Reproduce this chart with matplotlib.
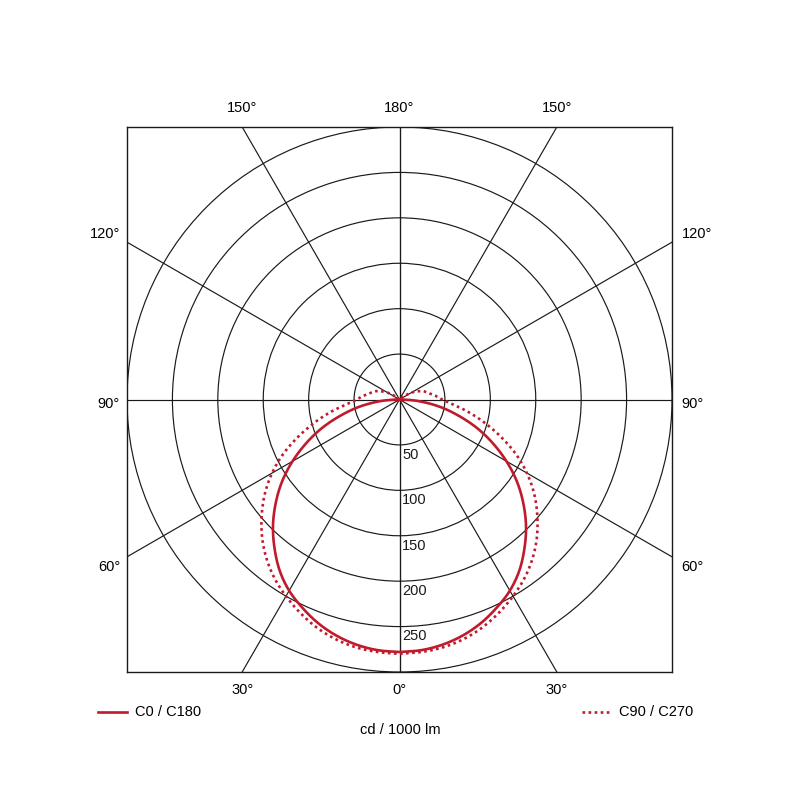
import numpy as np
import matplotlib.pyplot as plt
from matplotlib.lines import Line2D
from matplotlib.patches import Circle

plt.rcParams['font.family'] = ['Liberation Sans', 'DejaVu Sans']

# luminous intensity, cd / 1000 lm, vs angle from nadir (degrees)
angles_c0 = [0, 5, 10, 15, 20, 25, 30, 35, 40, 45, 50, 55, 60, 65, 70, 75, 80, 85, 90, 95, 100, 180]
c0_c180 = [278, 277, 274, 269, 262, 253, 243, 230, 214, 197, 178, 158, 136, 113, 90, 66, 44, 22, 4, 0, 0, 0]
angles_c90 = [0, 5, 10, 15, 20, 25, 30, 35, 40, 45, 50, 55, 60, 65, 70, 75, 80, 85, 90,
              95, 100, 105, 110, 115, 120, 125, 130, 135, 140, 180]
c90_c270 = [280, 279, 277, 273, 267, 259, 250, 240, 228, 214, 198, 181, 162, 141, 118, 96, 76, 58, 47,
            41, 35, 31, 27, 21, 15, 8, 3, 0, 0, 0]

ring_values = [50, 100, 150, 200, 250, 300]
ring_labels = ['50', '100', '150', '200', '250']
spoke_angles = [0, 30, 60, 90, 120, 150, 180]
rmax = 300

red = '#c01a2c'
grid_kw = dict(color='#1a1a1a', lw=0.85)


def to_xy(theta_deg, r, side=1):
    t = np.radians(theta_deg)
    r = np.asarray(r, dtype=float)
    return side * r * np.sin(t), -r * np.cos(t)


def smooth(theta, vals, n=8):
    # catmull-rom through the read points (in x/y space) for a smooth trace
    x, y = to_xy(theta, vals)
    p = np.column_stack([x, y])
    p = np.vstack([p[0] * 2 - p[1], p, p[-1] * 2 - p[-2]])
    out = []
    t = np.linspace(0, 1, n, endpoint=False)[:, None]
    for i in range(1, len(p) - 2):
        p0, p1, p2, p3 = p[i - 1], p[i], p[i + 1], p[i + 2]
        out.append(0.5 * (2 * p1 + (-p0 + p2) * t + (2 * p0 - 5 * p1 + 4 * p2 - p3) * t ** 2
                          + (-p0 + 3 * p1 - 3 * p2 + p3) * t ** 3))
    out.append(p[-2][None, :])
    return np.vstack(out)


def full_curve(theta, vals):
    pts = smooth(theta, vals)
    xr, yr = pts[:, 0], pts[:, 1]
    return np.concatenate([-xr[::-1], xr]), np.concatenate([yr[::-1], yr])


fig = plt.figure(figsize=(8, 8), dpi=100)
ax = fig.add_axes([127 / 800, 128 / 800, 545 / 800, 545 / 800])
ax.set_xlim(-rmax, rmax)
ax.set_ylim(-rmax, rmax)
ax.set_aspect('equal')
ax.set_xticks([])
ax.set_yticks([])
for s in ax.spines.values():
    s.set_linewidth(1.0)
    s.set_color('#1a1a1a')

for rv in ring_values:
    ax.add_patch(Circle((0, 0), rv, fill=False, **grid_kw))

L = rmax * 2
for a in spoke_angles:
    for side in (1, -1):
        x, y = to_xy(a, [0, L], side)
        ax.plot(x, y, **grid_kw)

for rv, lab in zip(ring_values, ring_labels):
    ax.annotate(lab, (0, -rv), xytext=(2, -2), textcoords='offset points',
                ha='left', va='top', fontsize=10.5, color='#1a1a1a')

x, y = full_curve(angles_c0, c0_c180)
ax.plot(x, y, color=red, lw=1.9, solid_capstyle='round')
x, y = full_curve(angles_c90, c90_c270)
ax.plot(x, y, color=red, lw=1.9, linestyle=(0, (1, 1.3)))

# angle labels where spokes meet the frame
for a in spoke_angles:
    t = np.radians(a)
    s, c = np.sin(t), -np.cos(t)
    for side in ((1, -1) if a not in (0, 180) else (1,)):
        if a in (0, 30, 150, 180):
            yb = np.sign(c) * rmax
            xb = side * s / abs(c) * rmax
            dy = 14 if c > 0 else -13
            ax.annotate(f'{a}°', (xb, yb), xytext=(0, dy), textcoords='offset points',
                        ha='center', va='center', fontsize=10.5, annotation_clip=False)
        else:
            xb = side * rmax
            yb = c / s * rmax
            dy = {60: -7, 90: -3, 120: 6}[a]
            ax.annotate(f'{a}°', (xb, yb), xytext=(-5 if side < 0 else 7, dy),
                        textcoords='offset points',
                        ha='right' if side < 0 else 'left', va='center',
                        fontsize=10.5, annotation_clip=False)

# legend entries and unit
fig.add_artist(Line2D([98 / 800, 127 / 800], [88 / 800, 88 / 800], color=red, lw=1.9))
fig.text(135 / 800, 88 / 800, 'C0 / C180', fontsize=10.5, va='center', ha='left')
fig.add_artist(Line2D([582 / 800, 611 / 800], [88 / 800, 88 / 800], color=red, lw=1.9,
                      linestyle=(0, (1, 1.3))))
fig.text(619 / 800, 88 / 800, 'C90 / C270', fontsize=10.5, va='center', ha='left')
fig.text(0.5, 70 / 800, 'cd / 1000 lm', fontsize=10.5, va='center', ha='center')

fig.savefig('out.png', dpi=100, facecolor='white')
